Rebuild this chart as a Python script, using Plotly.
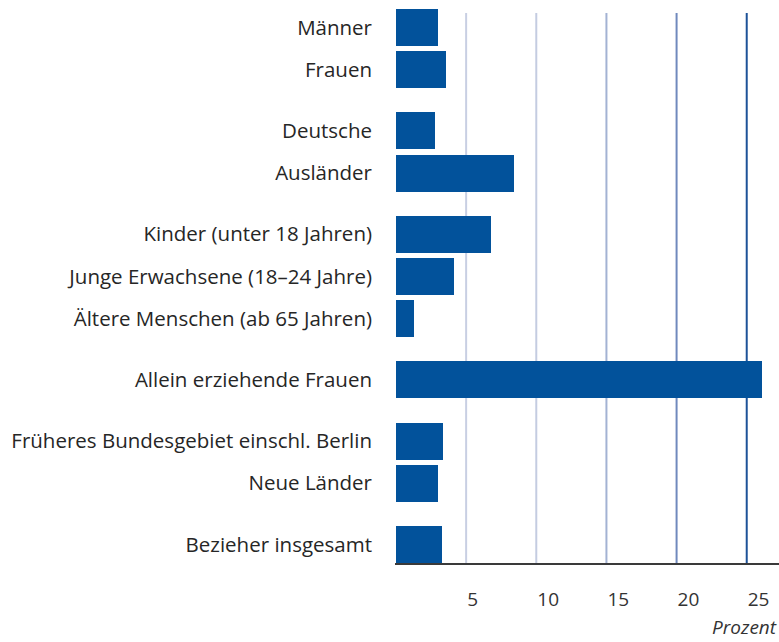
import plotly.graph_objects as go

# Data (Prozent)
groups = [
    ["Männer", "Frauen"],
    ["Deutsche", "Ausländer"],
    ["Kinder (unter 18 Jahren)", "Junge Erwachsene (18–24 Jahre)", "Ältere Menschen (ab 65 Jahren)"],
    ["Allein erziehende Frauen"],
    ["Früheres Bundesgebiet einschl. Berlin", "Neue Länder"],
    ["Bezieher insgesamt"],
]
values = [3.0, 3.6, 2.8, 8.4, 6.8, 4.1, 1.3, 26.1, 3.35, 3.0, 3.3]
tick_values = [5, 10, 15, 20, 25]
tick_labels = ["5", "10", "15", "20", "25"]
grid_colors = ["#c8cfe3", "#c4cce1", "#a3b2d3", "#7089bd", "#1d5298"]

# layout positions derived from the group structure
GROUP_GAP = 1.45
categories, positions = [], []
pos = 0.0
for gi, g in enumerate(groups):
    if gi > 0:
        pos += GROUP_GAP - 1
    for c in g:
        categories.append(c)
        positions.append(pos)
        pos += 1
last = positions[-1]

fig = go.Figure()
fig.add_trace(go.Bar(
    x=values, y=positions, orientation="h",
    marker=dict(color="#02529b", line=dict(width=0)),
    width=0.876, hoverinfo="x",
))

for v, col in zip(tick_values, grid_colors):
    fig.add_shape(type="line", xref="x", yref="paper", x0=v, x1=v,
                  y0=0, y1=0.9928, line=dict(color=col, width=2), layer="below")

fig.update_layout(
    width=779, height=642,
    margin=dict(l=395, r=0, t=9, b=79),
    plot_bgcolor="white", paper_bgcolor="white",
    showlegend=False, bargap=0,
    font=dict(family="Open Sans", color="#262626"),
)
fig.update_xaxes(
    range=[-0.07, 27.3], showgrid=False, zeroline=False,
    showline=True, linecolor="#3a3a3a", linewidth=2,
    tickmode="array", tickvals=tick_values, ticktext=tick_labels,
    ticks="", ticklabelposition="outside right", ticklabelstandoff=18,
    tickfont=dict(size=19, color="#333333"),
)
fig.update_yaxes(
    range=[last + 0.44, -0.44], showgrid=False, zeroline=False,
    showline=False, tickmode="array", tickvals=positions, ticktext=categories,
    ticks="", ticklabelstandoff=22,
    tickfont=dict(size=20.5, color="#262626"),
)
fig.add_annotation(text="<i>Prozent</i>", xref="paper", yref="paper",
                   x=1.0, y=0, yshift=-64, xanchor="right", yanchor="middle",
                   showarrow=False, font=dict(size=19, color="#333333"))

fig.write_html("out.html", config={"displayModeBar": False},
               post_script="document.body.style.margin='0';")
